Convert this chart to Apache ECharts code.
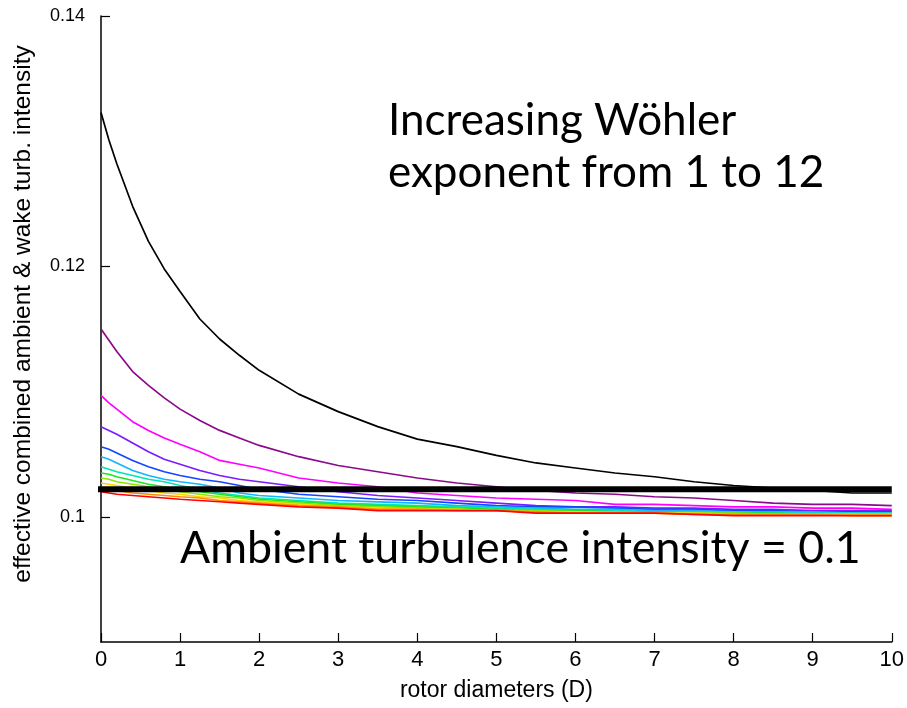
<!DOCTYPE html>
<html>
<head>
<meta charset="utf-8">
<script src="https://cdn.jsdelivr.net/npm/echarts@6/dist/echarts.min.js"></script>
<style>
  html, body { margin: 0; padding: 0; background: #fff; }
  #chart { width: 907px; height: 708px; }
</style>
</head>
<body>
<div id="chart"></div>
<script>
// Downstream distance in rotor diameters
const distance = [0, 0.1, 0.2, 0.4, 0.6, 0.8, 1, 1.25, 1.5, 1.75, 2, 2.5, 3, 3.5, 4, 4.5, 5, 5.5, 6, 6.5, 7, 7.5, 8, 8.5, 9, 9.5, 10];

// Effective turbulence intensity for Wöhler exponents m = 1 … 12
const tiM12 = [0.1323, 0.1301, 0.1282, 0.1248, 0.1220, 0.1198, 0.1180, 0.1158, 0.1142, 0.1129, 0.1117, 0.1098, 0.1084, 0.1072, 0.1062, 0.1056, 0.1049, 0.1043, 0.1039, 0.1035, 0.1032, 0.1028, 0.1025, 0.1023, 0.1021, 0.1019, 0.1019];
const tiM11 = [0.1150, 0.1141, 0.1132, 0.1116, 0.1105, 0.1095, 0.1086, 0.1077, 0.1069, 0.1063, 0.1057, 0.1048, 0.1041, 0.1036, 0.1031, 0.1027, 0.1024, 0.1021, 0.1019, 0.1018, 0.1016, 0.1015, 0.1013, 0.1011, 0.1010, 0.1010, 0.1009];
const tiM10 = [0.1097, 0.1091, 0.1086, 0.1076, 0.1069, 0.1063, 0.1058, 0.1052, 0.1045, 0.1042, 0.1039, 0.1031, 0.1027, 0.1024, 0.1019, 0.1017, 0.1015, 0.1014, 0.1013, 0.1010, 0.1010, 0.1009, 0.1008, 0.1008, 0.1007, 0.1007, 0.1006];
const tiM9  = [0.1072, 0.1069, 0.1066, 0.1059, 0.1052, 0.1046, 0.1042, 0.1037, 0.1033, 0.1030, 0.1028, 0.1024, 0.1020, 0.1017, 0.1015, 0.1013, 0.1011, 0.1009, 0.1008, 0.1008, 0.1007, 0.1007, 0.1006, 0.1006, 0.1005, 0.1005, 0.1005];
const tiM8  = [0.1056, 0.1054, 0.1051, 0.1045, 0.1040, 0.1036, 0.1033, 0.1030, 0.1028, 0.1025, 0.1022, 0.1018, 0.1016, 0.1014, 0.1013, 0.1011, 0.1009, 0.1008, 0.1008, 0.1007, 0.1006, 0.1006, 0.1005, 0.1005, 0.1004, 0.1004, 0.1004];
const tiM7  = [0.1048, 0.1046, 0.1043, 0.1037, 0.1033, 0.1030, 0.1028, 0.1026, 0.1023, 0.1019, 0.1017, 0.1015, 0.1013, 0.1012, 0.1011, 0.1009, 0.1008, 0.1007, 0.1006, 0.1006, 0.1005, 0.1005, 0.1004, 0.1004, 0.1004, 0.1003, 0.1003];
const tiM6  = [0.1040, 0.1038, 0.1036, 0.1033, 0.1030, 0.1028, 0.1025, 0.1022, 0.1019, 0.1017, 0.1015, 0.1013, 0.1011, 0.1010, 0.1009, 0.1008, 0.1007, 0.1006, 0.1005, 0.1005, 0.1004, 0.1004, 0.1004, 0.1003, 0.1003, 0.1003, 0.1003];
const tiM5  = [0.1035, 0.1034, 0.1032, 0.1029, 0.1026, 0.1024, 0.1022, 0.1020, 0.1018, 0.1016, 0.1014, 0.1012, 0.1010, 0.1009, 0.1008, 0.1007, 0.1006, 0.1005, 0.1005, 0.1004, 0.1004, 0.1003, 0.1003, 0.1003, 0.1002, 0.1002, 0.1002];
const tiM4  = [0.1031, 0.1030, 0.1028, 0.1026, 0.1024, 0.1022, 0.1020, 0.1018, 0.1016, 0.1015, 0.1013, 0.1011, 0.1009, 0.1008, 0.1007, 0.1006, 0.1005, 0.1005, 0.1004, 0.1004, 0.1003, 0.1003, 0.1003, 0.1002, 0.1002, 0.1002, 0.1002];
const tiM3  = [0.1027, 0.1026, 0.1025, 0.1023, 0.1021, 0.1019, 0.1018, 0.1016, 0.1015, 0.1013, 0.1012, 0.1010, 0.1008, 0.1007, 0.1006, 0.1006, 0.1005, 0.1004, 0.1004, 0.1003, 0.1003, 0.1003, 0.1002, 0.1002, 0.1002, 0.1002, 0.1002];
const tiM2  = [0.1023, 0.1022, 0.1021, 0.1019, 0.1018, 0.1017, 0.1016, 0.1015, 0.1013, 0.1012, 0.1011, 0.1009, 0.1008, 0.1006, 0.1006, 0.1005, 0.1005, 0.1004, 0.1003, 0.1003, 0.1003, 0.1002, 0.1002, 0.1002, 0.1002, 0.1001, 0.1001];
const tiM1  = [0.1020, 0.1019, 0.1018, 0.1017, 0.1016, 0.1015, 0.1014, 0.1013, 0.1012, 0.1011, 0.1010, 0.1008, 0.1007, 0.1005, 0.1005, 0.1005, 0.1005, 0.1003, 0.1003, 0.1003, 0.1003, 0.1002, 0.1001, 0.1001, 0.1001, 0.1001, 0.1001];

// Thick reference line marking the ambient level
const ambientLineLevel = 0.1022;
const ambientLineSpan = [-0.07, 10];

// Axis ticks
const xTicks = [0, 1, 2, 3, 4, 5, 6, 7, 8, 9, 10];
const yTicks = [0.1, 0.12, 0.14];

const curves = [
  { name: 'm = 12', data: tiM12, color: '#000000' },
  { name: 'm = 11', data: tiM11, color: '#8b0a8b' },
  { name: 'm = 10', data: tiM10, color: '#ff00ff' },
  { name: 'm = 9',  data: tiM9,  color: '#7a1cff' },
  { name: 'm = 8',  data: tiM8,  color: '#1446ff' },
  { name: 'm = 7',  data: tiM7,  color: '#14b4ff' },
  { name: 'm = 6',  data: tiM6,  color: '#00e6b4' },
  { name: 'm = 5',  data: tiM5,  color: '#1ee61e' },
  { name: 'm = 4',  data: tiM4,  color: '#8ce600' },
  { name: 'm = 3',  data: tiM3,  color: '#ffd200' },
  { name: 'm = 2',  data: tiM2,  color: '#ff8c00' },
  { name: 'm = 1',  data: tiM1,  color: '#ff0000' }
];

const series = curves.map(c => ({
  name: c.name,
  type: 'line',
  data: distance.map((d, i) => [d, c.data[i]]),
  symbol: 'none',
  smooth: false,
  lineStyle: { color: c.color, width: 1.7 },
  z: 2
}));

series.push({
  name: 'ambient',
  type: 'line',
  data: ambientLineSpan.map(d => [d, ambientLineLevel]),
  symbol: 'none',
  clip: false,
  lineStyle: { color: '#000', width: 6 },
  z: 5
});

const chart = echarts.init(document.getElementById('chart'), null, { renderer: 'canvas' });

chart.setOption({
  animation: false,
  backgroundColor: '#fff',
  grid: { left: 101, right: 13, top: 16, bottom: 66, containLabel: false },
  xAxis: {
    type: 'value',
    min: 0, max: 10, interval: 1,
    name: 'rotor diameters (D)',
    nameLocation: 'middle',
    nameGap: 37,
    nameTextStyle: { fontFamily: 'Liberation Sans', fontSize: 23, color: '#000' },
    axisLine: { show: true, lineStyle: { color: '#000', width: 1.5 } },
    axisTick: { show: true, inside: true, length: 9, lineStyle: { color: '#000', width: 1.2 }, customValues: xTicks },
    axisLabel: { color: '#000', fontFamily: 'Liberation Sans', fontSize: 22, margin: 7, customValues: xTicks },
    splitLine: { show: false }
  },
  yAxis: {
    type: 'value',
    min: 0.09, max: 0.14,
    axisLine: { show: true, lineStyle: { color: '#000', width: 1.5 } },
    axisTick: { show: true, inside: true, length: 9, lineStyle: { color: '#000', width: 1.2 }, customValues: yTicks },
    axisLabel: { color: '#000', fontFamily: 'Liberation Sans', fontSize: 18, margin: 16, customValues: yTicks,
      formatter: v => String(+v.toFixed(2)) },
    splitLine: { show: false }
  },
  graphic: [
    {
      type: 'text', x: 23, y: 314, rotation: Math.PI / 2,
      style: { text: 'effective combined ambient & wake turb. intensity', fill: '#000',
        font: '24.5px "Liberation Sans"', align: 'center', verticalAlign: 'middle' }
    },
    {
      type: 'text', x: 388, y: 121,
      style: { text: 'Increasing Wöhler', fill: '#000', font: '44px Lato', align: 'left', verticalAlign: 'middle' }
    },
    {
      type: 'text', x: 388, y: 173,
      style: { text: 'exponent from 1 to 12', fill: '#000', font: '44px Lato', align: 'left', verticalAlign: 'middle' }
    },
    {
      type: 'text', x: 180, y: 549,
      style: { text: 'Ambient turbulence intensity = 0.1', fill: '#000', font: '44.7px Lato', align: 'left', verticalAlign: 'middle' }
    }
  ],
  series: series
});
</script>
</body>
</html>
